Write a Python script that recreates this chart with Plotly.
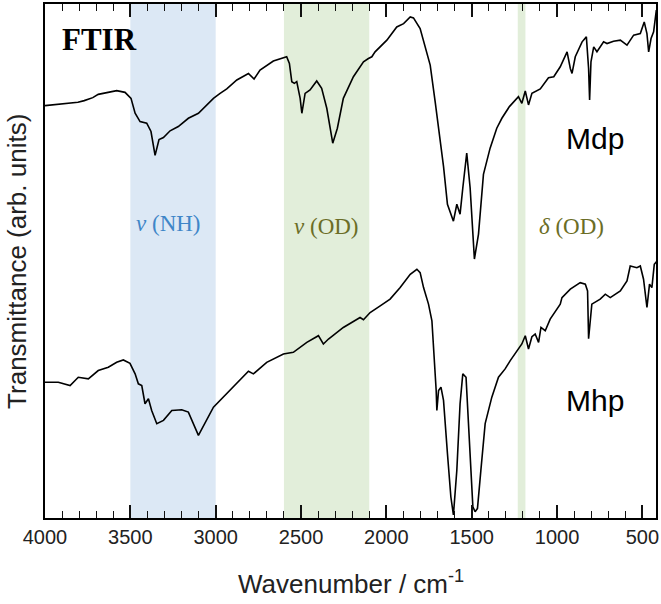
import plotly.graph_objects as go

# ---------------- data ----------------
mdp_wn = [4000, 3900, 3807, 3770, 3746, 3720, 3688, 3640, 3580, 3531, 3496, 3472, 3443, 3404, 3379, 3355,
          3332, 3306, 3267, 3219, 3160, 3101, 3062, 3013, 2974, 2935, 2876, 2808, 2775, 2740, 2662, 2603,
          2584, 2568, 2554, 2539, 2525, 2505, 2495, 2476, 2447, 2408, 2379, 2349, 2314, 2287, 2252, 2193,
          2134, 2105, 2085, 2066, 1997, 1939, 1899, 1860, 1841, 1802, 1773, 1743, 1714, 1685, 1665, 1642,
          1622, 1607, 1587, 1568, 1552, 1529, 1509, 1484, 1460, 1431, 1392, 1353, 1323, 1279, 1226, 1206,
          1186, 1167, 1147, 1098, 1050, 1019, 981, 941, 922, 912, 893, 853, 828, 815, 809, 801, 785, 766,
          727, 707, 669, 629, 590, 551, 512, 489, 473, 463, 449, 434, 418]
mdp_t = [414, 416, 417.3, 419, 420.7, 422, 425.3, 427, 429, 427.3, 421.3, 406.3, 398, 396.3, 388, 364,
         380, 382, 388.7, 393, 401.3, 406.3, 413, 421.3, 426.3, 430.7, 439.7, 446.3, 440.7, 449.7, 458.7, 462,
         463, 456.3, 438, 436.3, 438, 421.3, 406.3, 426.3, 429.7, 438.7, 431.3, 411.3, 376.3, 391.3, 421.3, 443,
         458, 461.3, 463, 468, 479.7, 493, 496.3, 503, 502, 491.3, 473, 454.7, 418, 378, 353, 315,
         305, 298, 315, 305, 331.3, 366.3, 331.3, 260, 285, 345, 371.3, 391.3, 401.3, 413, 423, 416.3,
         428.7, 414.7, 426.3, 430.7, 442, 443, 453, 468, 451.3, 446.3, 463, 478, 483, 451.3, 419.7, 458, 473, 468,
         478, 476.3, 478.7, 479.7, 474.7, 484.7, 486.3, 498, 486.3, 468, 481.3, 488, 510]

mhp_wn = [4000, 3922, 3853, 3805, 3746, 3688, 3629, 3580, 3541, 3502, 3472, 3453, 3433, 3414, 3394, 3375,
          3345, 3306, 3257, 3199, 3160, 3131, 3101, 3013, 2896, 2808, 2779, 2701, 2603, 2545, 2466, 2398,
          2369, 2339, 2252, 2173, 2154, 2134, 2095, 2036, 1978, 1919, 1860, 1821, 1802, 1782, 1753, 1733,
          1720, 1708, 1704, 1694, 1680, 1665, 1642, 1622, 1607, 1587, 1568, 1552, 1533, 1513, 1493, 1480,
          1466, 1446, 1421, 1382, 1343, 1304, 1274, 1206, 1186, 1167, 1147, 1128, 1108, 1094, 1069, 1040,
          981, 971, 922, 864, 834, 821, 815, 796, 747, 717, 688, 629, 590, 571, 532, 512, 493, 473, 458,
          444, 430, 414]
mhp_t = [136.3, 136.3, 133, 141.3, 139.7, 148, 151.3, 156.3, 158.7, 155.3, 144.7, 134.7, 133, 114.7, 119.7, 108,
         94.7, 98, 108, 108.7, 106.3, 94.7, 83, 111.3, 131.3, 147.3, 144.7, 156.3, 164.7, 166.3, 176.3, 183,
         174.7, 179.7, 191.3, 199.7, 201.3, 199, 206.3, 213, 219.7, 231.3, 244.7, 249.7, 246.3, 231.3, 214.7, 198,
         164.7, 128, 108, 128, 131.3, 118, 64.7, 21.3, 3, 48, 114.7, 144.7, 141.3, 81.3, 11.3, 6.3,
         9.7, 48, 94.7, 121.3, 141.3, 149.7, 158, 174.7, 183, 169.7, 182, 184.7, 176.3, 191.3, 188, 199.7,
         214.7, 221.3, 229.7, 236.3, 234.7, 228, 180, 214.7, 219.7, 224.7, 221.3, 228, 238, 253, 251.3, 253, 239.7, 211.3, 234.7,
         231.3, 254.7, 258]

band_names = ["NH", "OD", "OD_def"]
band_from = [3500, 2600, 1230]
band_to = [3000, 2100, 1185]
band_fill = ["rgb(220,232,245)", "rgb(226,238,218)", "rgb(226,238,218)"]

# ---------------- figure ----------------
Y_LO, Y_HI = 0, 516
fig = go.Figure()

for name, x0, x1, c in zip(band_names, band_from, band_to, band_fill):
    fig.add_trace(go.Scatter(x=[x0, x1, x1, x0, x0], y=[Y_LO, Y_LO, Y_HI, Y_HI, Y_LO],
                             mode="lines", fill="toself", fillcolor=c, line=dict(width=0, color=c),
                             hoverinfo="skip", showlegend=False, name=name))

fig.add_trace(go.Scatter(x=mdp_wn, y=mdp_t, mode="lines", line=dict(color="black", width=1.6),
                         showlegend=False, name="Mdp"))
fig.add_trace(go.Scatter(x=mhp_wn, y=mhp_t, mode="lines", line=dict(color="black", width=1.6),
                         showlegend=False, name="Mhp"))

serif = "Liberation Serif, Times New Roman, serif"
sans = "Liberation Sans, Arial, sans-serif"

ann = [
    dict(x=3678, y=480, text="<b>FTIR</b>", font=dict(family=serif, size=31, color="black")),
    dict(x=776, y=381, text="Mdp", font=dict(family=sans, size=30, color="black")),
    dict(x=776, y=118, text="Mhp", font=dict(family=sans, size=30, color="black")),
    dict(x=3279, y=296, text="<i>ν</i> (NH)", font=dict(family=serif, size=23, color="#3f86c8")),
    dict(x=2353, y=293, text="<i>ν</i> (OD)", font=dict(family=serif, size=23, color="#6b6d26")),
    dict(x=917, y=293, text="<i>δ</i> (OD)", font=dict(family=serif, size=23, color="#6b6d26")),
]
for a in ann:
    fig.add_annotation(xref="x", yref="y", showarrow=False, xanchor="center", yanchor="middle", **a)

fig.add_annotation(xref="paper", yref="paper", x=-0.046, y=0.5, text="Transmittance (arb. units)",
                   textangle=-90, showarrow=False, xanchor="center", yanchor="middle",
                   font=dict(family=sans, size=26, color="#222"))
fig.add_annotation(xref="paper", yref="paper", x=0.5, y=-0.161, text="Wavenumber / cm<sup>-1</sup>",
                   showarrow=False, xanchor="center", yanchor="bottom",
                   font=dict(family=sans, size=26, color="#222"))

fig.update_xaxes(range=[4000, 420], tickmode="linear", tick0=500, dtick=500,
                 ticks="inside", ticklen=13, tickwidth=2, tickcolor="#111111",
                 showline=True, linecolor="black", linewidth=2, mirror="allticks", showgrid=False,
                 zeroline=False, layer="above traces",
                 tickfont=dict(family=sans, size=20, color="#222"),
                 minor=dict(dtick=100, ticks="inside", ticklen=7, tickwidth=1, tickcolor="#111111"))
fig.update_yaxes(range=[Y_LO, Y_HI], showticklabels=False, showline=True, linecolor="black",
                 linewidth=2, mirror=True, showgrid=False, zeroline=False)

fig.update_layout(width=661, height=604, margin=dict(l=45, r=5, t=2, b=86),
                  plot_bgcolor="white", paper_bgcolor="white")

fig.write_html("out.html")
